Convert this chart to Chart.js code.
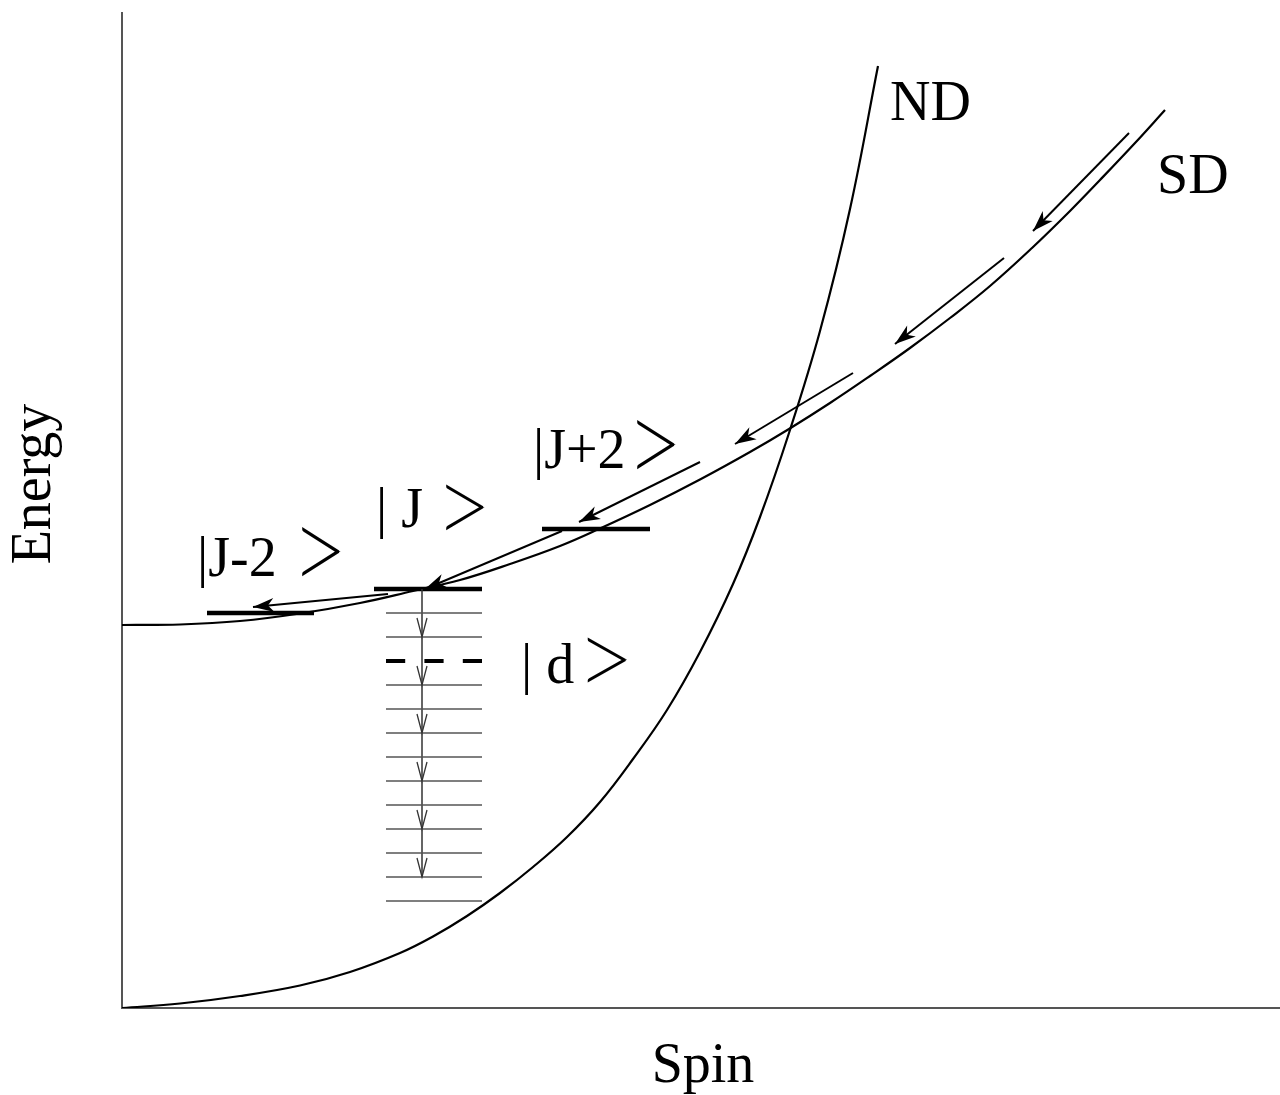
<!DOCTYPE html>
<html>
<head>
<meta charset="utf-8">
<script src="https://cdn.jsdelivr.net/npm/chart.js@4.4.1/dist/chart.umd.min.js"></script>
<style>
  html, body { margin: 0; padding: 0; background: #fff; }
</style>
</head>
<body>
<canvas id="chart" width="1280" height="1095"></canvas>
<script>
(function () {

  // normal deformed band (ND): spin vs energy
  var ndSpin   = [0, 58, 118, 178, 228, 278, 311, 345, 378, 411, 445, 478, 511, 545, 578, 611, 638, 667, 698, 728, 756];
  var ndEnergy = [0, 4.5, 12, 22.5, 36, 55, 71.5, 92, 115, 141, 171, 206, 249, 298, 356, 424, 491, 575, 677, 799, 942];

  // superdeformed band (SD)
  var sdSpin   = [0, 58, 118, 178, 238, 291, 338, 388, 438, 478, 528, 578, 628, 667, 708, 748, 788, 828, 868, 910, 948, 978, 1013, 1043];
  var sdEnergy = [383, 383.5, 387, 394.5, 405, 417, 428, 444, 462, 479.5, 503, 528.5, 556, 579, 605, 632, 660, 690, 722, 760, 797, 828, 865, 898];

  // gamma cascade down the SD band
  var cascadeFromSpin   = [1007, 882, 731, 578, 440, 266];
  var cascadeFromEnergy = [875, 750, 635, 546, 477, 414];
  var cascadeToSpin     = [911, 773, 613, 457, 303, 131];
  var cascadeToEnergy   = [777, 664, 564, 486, 419, 401];

  // SD states |J-2>, |J>, |J+2>
  var stateNames     = ['|J-2', '| J', '|J+2'];
  var stateSpinStart = [85, 252, 420];
  var stateSpinEnd   = [192, 360, 528];
  var stateEnergy    = [395, 419, 479];

  // dense normal states under |J> and the doorway state |d>
  var bathSpin    = [264, 360];
  var bathEnergy  = [395, 371, 323, 299, 275, 251, 227, 203, 179, 155, 131, 107];
  var doorEnergy  = 347;
  var decaySpin   = 300;
  var decayTop    = 419;
  var decayTips   = [371, 323, 275, 227, 179, 131];

  var serif = '"Liberation Serif", "Times New Roman", serif';

  var pts = function (xs, ys) {
    return xs.map(function (x, i) { return { x: x, y: ys[i] }; });
  };

  var line = function (data, opts) {
    var ds = {
      data: data,
      borderColor: '#000',
      borderWidth: 2,
      pointRadius: 0,
      fill: false,
      tension: 0
    };
    for (var k in opts) ds[k] = opts[k];
    return ds;
  };

  var datasets = [];

  bathEnergy.forEach(function (e) {
    datasets.push(line(pts(bathSpin, [e, e]), { borderColor: '#555', borderWidth: 1.5 }));
  });
  datasets.push(line(pts(bathSpin, [doorEnergy, doorEnergy]), {
    borderWidth: 4, borderDash: [19.2, 19.2], borderCapStyle: 'butt'
  }));
  datasets.push(line(pts([decaySpin, decaySpin], [decayTop, decayTips[decayTips.length - 1]]), {
    borderColor: '#333', borderWidth: 1.5
  }));

  datasets.push(line(pts(ndSpin, ndEnergy), { tension: 0.4, borderWidth: 2.2 }));
  datasets.push(line(pts(sdSpin, sdEnergy), { tension: 0.4, borderWidth: 2.2 }));

  cascadeFromSpin.forEach(function (s, i) {
    datasets.push(line(pts([s, cascadeToSpin[i]], [cascadeFromEnergy[i], cascadeToEnergy[i]]), {}));
  });

  stateEnergy.forEach(function (e, i) {
    datasets.push(line(pts([stateSpinStart[i], stateSpinEnd[i]], [e, e]), { borderWidth: 4.5, borderCapStyle: 'butt' }));
  });

  // thin, stretched ">" of the ket
  var drawAngle = function (ctx, cx, cy, w, h) {
    ctx.save();
    ctx.font = '200 60px Lato, "Noto Sans", sans-serif';
    var m = ctx.measureText('>');
    var iw = m.actualBoundingBoxLeft + m.actualBoundingBoxRight;
    var ih = m.actualBoundingBoxAscent + m.actualBoundingBoxDescent;
    ctx.translate(cx, cy);
    ctx.scale(w / iw, h / ih);
    ctx.textAlign = 'left';
    ctx.textBaseline = 'alphabetic';
    ctx.strokeStyle = '#000';
    ctx.lineWidth = 1.1;
    ctx.lineJoin = 'miter';
    var tx = m.actualBoundingBoxLeft - iw / 2, ty = m.actualBoundingBoxAscent - ih / 2;
    ctx.fillText('>', tx, ty);
    ctx.strokeText('>', tx, ty);
    ctx.restore();
  };

  var decorations = {
    id: 'decorations',
    afterDatasetsDraw: function (chart) {
      var ctx = chart.ctx;
      var xs = chart.scales.x, ys = chart.scales.y;
      ctx.save();

      // filled heads on the cascade
      ctx.fillStyle = '#000';
      cascadeToSpin.forEach(function (s, i) {
        var x1 = xs.getPixelForValue(cascadeFromSpin[i]), y1 = ys.getPixelForValue(cascadeFromEnergy[i]);
        var x2 = xs.getPixelForValue(s), y2 = ys.getPixelForValue(cascadeToEnergy[i]);
        var a = Math.atan2(y2 - y1, x2 - x1);
        ctx.save();
        ctx.translate(x2, y2);
        ctx.rotate(a);
        ctx.beginPath();
        ctx.moveTo(0, 0);
        ctx.lineTo(-21, -7);
        ctx.lineTo(-15, 0);
        ctx.lineTo(-21, 7);
        ctx.closePath();
        ctx.fill();
        ctx.restore();
      });

      // open heads on the decay out
      ctx.strokeStyle = '#333';
      ctx.lineWidth = 1.3;
      var dx = xs.getPixelForValue(decaySpin);
      decayTips.forEach(function (e) {
        var y = ys.getPixelForValue(e);
        ctx.beginPath();
        ctx.moveTo(dx - 5, y - 19);
        ctx.lineTo(dx, y);
        ctx.lineTo(dx + 5, y - 19);
        ctx.stroke();
      });

      // labels
      ctx.fillStyle = '#000';
      ctx.font = '56px ' + serif;
      ctx.textAlign = 'left';
      ctx.textBaseline = 'alphabetic';
      ctx.fillText('ND', 890, 120);
      ctx.fillText('SD', 1157, 193);
      ctx.fillText(stateNames[0], 197, 576);
      ctx.fillText(stateNames[1], 376, 527);
      ctx.fillText(stateNames[2], 533, 468);
      ctx.fillText('| d', 521, 683);

      drawAngle(ctx, 321, 552, 37, 48);
      drawAngle(ctx, 465, 507, 37, 45);
      drawAngle(ctx, 656, 445, 37, 48);
      drawAngle(ctx, 607, 660, 38, 44);

      // axis titles
      ctx.textAlign = 'center';
      ctx.fillText('Spin', 703, 1082);
      ctx.translate(50, 484);
      ctx.rotate(-Math.PI / 2);
      ctx.fillText('Energy', 0, 0);

      ctx.restore();
    }
  };

  var ctx = document.getElementById('chart').getContext('2d');

  new Chart(ctx, {
    type: 'line',
    data: { datasets: datasets },
    options: {
      responsive: false,
      animation: false,
      events: [],
      layout: { padding: { left: 122, top: 13, right: 0, bottom: 87 } },
      plugins: { legend: { display: false }, tooltip: { enabled: false } },
      scales: {
        x: {
          type: 'linear', min: 0, max: 1158,
          ticks: { display: false },
          grid: { color: 'transparent', drawTicks: false },
          border: { display: true, color: '#555', width: 2 }
        },
        y: {
          type: 'linear', min: 0, max: 995,
          ticks: { display: false },
          grid: { color: 'transparent', drawTicks: false },
          border: { display: true, color: '#555', width: 2 }
        }
      }
    },
    plugins: [decorations]
  });

})();
</script>
</body>
</html>
